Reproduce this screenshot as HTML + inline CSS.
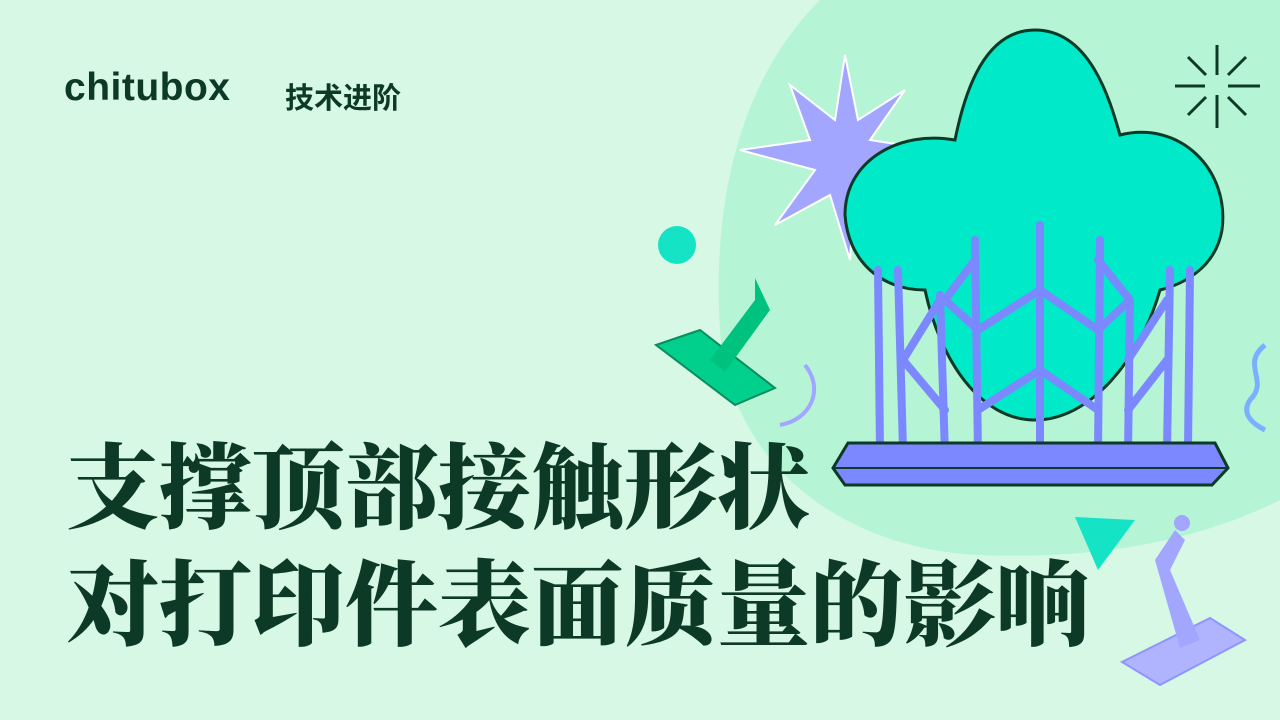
<!DOCTYPE html>
<html><head><meta charset="utf-8"><style>
html,body{margin:0;padding:0;width:1280px;height:720px;overflow:hidden;background:#d6f8e4}
.t{position:absolute;font-family:"Liberation Serif","Noto Serif CJK SC",serif;font-weight:900;color:#0d3a27;font-size:93px;line-height:1;left:66px;white-space:nowrap;letter-spacing:0px}
</style></head><body>
<svg width="1280" height="720" style="position:absolute;left:0;top:0">
<path d="M820 0 L1280 0 L1280 500 C1200 540 1100 560 980 555 C850 550 730 470 720 330 C712 200 740 80 820 0Z" fill="#b5f5d5"/>
<polygon fill="#a2a6ff" stroke="#fff" stroke-width="2" points="845,55 858,120 905,90 870,140 935,150 870,170 915,215 855,190 850,260 830,195 775,225 815,170 740,150 810,140 790,85 835,120"/>
<circle cx="677" cy="245" r="19" fill="#14e3c5"/>
<g>
<polygon points="656,345 700,330 775,388 735,405" fill="#00d08c" stroke="#0a8c5e" stroke-width="2"/>
<polygon points="710,360 755,300 755,278 770,310 725,372" fill="#00c27f"/>
</g>
<path d="M805 365 C825 390 810 420 780 425" stroke="#a2a6ff" stroke-width="4" fill="none"/>
<path d="M1035 30 C1090 30 1110 100 1120 135 C1180 120 1230 170 1222 230 C1215 270 1180 285 1160 290 C1140 360 1090 420 1035 420 C980 420 940 360 925 290 C880 290 848 260 845 215 C845 160 900 130 955 140 C965 90 985 30 1035 30Z" fill="#00e9c9" stroke="#0d3a27" stroke-width="3"/>
<g stroke="#7b88ff" stroke-width="8" fill="none" stroke-linecap="round">
<path d="M878 270 L880 450 M898 270 L903 450 M940 295 L945 455 M975 240 L978 455 M1040 225 L1040 455 M1100 240 L1098 455 M1130 300 L1128 455 M1170 270 L1167 450 M1190 270 L1188 450"/>
<path d="M903 360 L940 300 M903 360 L945 410 M945 300 L975 260 M978 330 L1040 290 L1098 330 M978 410 L1040 370 L1098 410 M978 330 L945 300 M1098 330 L1130 300 M1128 360 L1167 300 M1128 410 L1167 360 M1098 260 L1130 300"/>
</g>
<polygon points="848,443 1215,443 1228,468 1212,485 845,485 833,468" fill="#7b88ff" stroke="#0d3a27" stroke-width="3"/>
<line x1="833" y1="468" x2="1228" y2="468" stroke="#0d3a27" stroke-width="2"/>
<polygon points="1075,517 1135,520 1098,570" fill="#14e3c5"/>
<g>
<polygon points="1122,662 1210,618 1245,640 1160,685" fill="#b0b4ff" stroke="#8f95ff" stroke-width="2"/>
<polygon points="1155,560 1175,530 1185,540 1170,570 1200,640 1180,648" fill="#a2a6ff"/>
<circle cx="1182" cy="523" r="8" fill="#a2a6ff"/>
</g>
<path d="M1265 345 C1240 365 1270 380 1250 400 C1240 415 1255 425 1265 430" stroke="#7bb0ff" stroke-width="5" fill="none"/>
<g stroke="#0d3a27" stroke-width="3">
<path d="M1217 45 L1217 75 M1217 95 L1217 128 M1175 86 L1205 86 M1228 86 L1260 86 M1188 57 L1206 75 M1228 97 L1246 115 M1246 57 L1228 75 M1206 97 L1188 115"/>
</g>
</svg>
<div style="position:absolute;left:64px;top:66px;font-family:'Liberation Sans',sans-serif;font-weight:700;font-size:39px;color:#0d3a27;letter-spacing:0.5px">chitubox</div>
<div style="position:absolute;left:285px;top:75px;font-family:'Liberation Sans','Noto Sans CJK SC',sans-serif;font-weight:700;font-size:29px;color:#0d3a27">技术进阶</div>
<div class="t" style="top:444px">支撑顶部接触形状</div>
<div class="t" style="top:561px">对打印件表面质量的影响</div>
</body></html>
